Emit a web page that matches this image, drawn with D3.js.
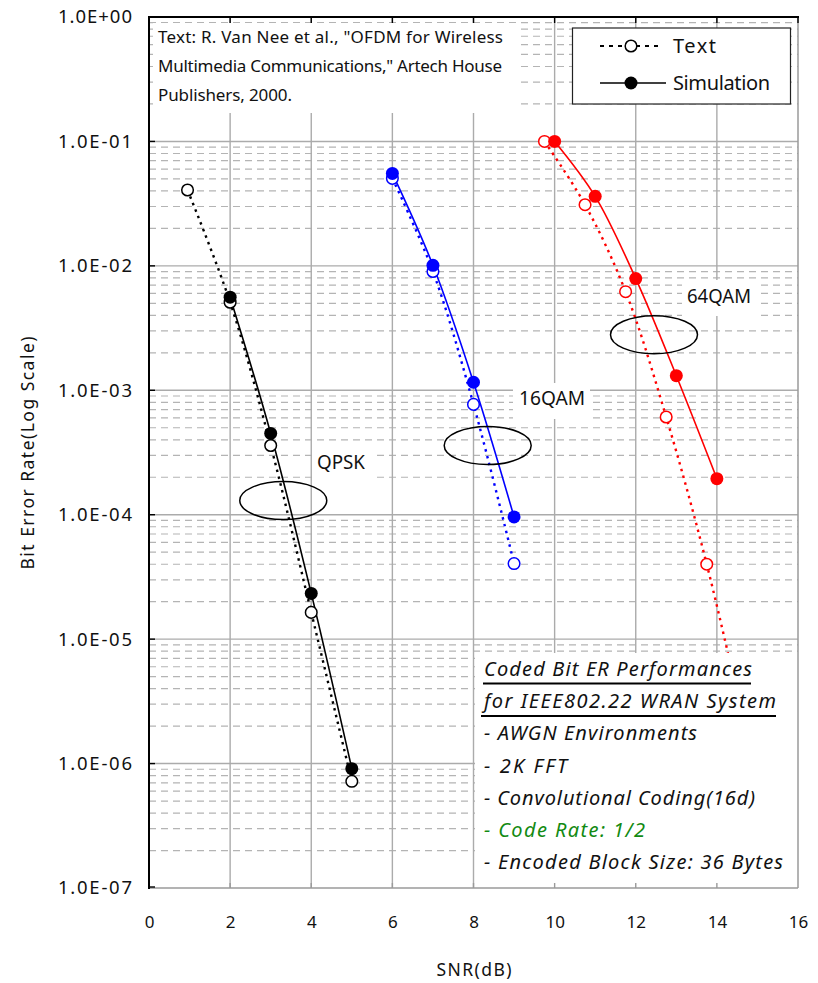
<!DOCTYPE html>
<html><head><meta charset="utf-8">
<script src="https://cdn.jsdelivr.net/npm/d3@7"></script>
<style>body{margin:0;background:#fff} svg{display:block}</style>
</head><body>
<svg id="c" width="818" height="983"></svg>
<script>
// ---------- data ----------
const qpskTextX   = [0.95, 2, 3, 4, 5];
const qpskTextBER = [0.0407, 5.1e-3, 3.6e-4, 1.64e-5, 7.2e-7];
const qpskSimX    = [2, 3, 4, 5];
const qpskSimBER  = [5.6e-3, 4.5e-4, 2.33e-5, 9.1e-7];

const qam16TextX   = [6, 7, 8, 9];
const qam16TextBER = [0.0505, 9.0e-3, 7.7e-4, 4.05e-5];
const qam16SimX    = [6, 7, 8, 9];
const qam16SimBER  = [0.0553, 0.0101, 1.16e-3, 9.6e-5];

const qam64TextX   = [9.75, 10.75, 11.75, 12.75, 13.75, 14.75];
const qam64TextBER = [0.100, 0.031, 6.2e-3, 6.1e-4, 4.0e-5, 1.6e-6];
const qam64SimX    = [10, 11, 12, 13, 14];
const qam64SimBER  = [0.100, 0.0362, 7.9e-3, 1.31e-3, 1.95e-4];

const xTickValues = [0, 2, 4, 6, 8, 10, 12, 14, 16];
const yTickValues = [1, 1e-1, 1e-2, 1e-3, 1e-4, 1e-5, 1e-6, 1e-7];
const yTickLabels = ["1.0E+00","1.0E-01","1.0E-02","1.0E-03","1.0E-04","1.0E-05","1.0E-06","1.0E-07"];

const groupNames  = ["QPSK", "16QAM", "64QAM"];
const groupCenterX   = [3.31, 8.35, 12.45];
const groupCenterBER = [1.30e-4, 3.6e-4, 2.8e-3];

const legendNames = ["Text", "Simulation"];
const refLines = ["Text: R. Van Nee et al., \"OFDM for Wireless",
                  "Multimedia Communications,\" Artech House",
                  "Publishers, 2000."];
const noteLines = ["Coded Bit ER Performances", "for IEEE802.22 WRAN System",
                   "- AWGN Environments", "- 2K FFT", "- Convolutional Coding(16d)",
                   "- Code Rate: 1/2", "- Encoded Block Size: 36 Bytes"];

// ---------- setup ----------
const svg = d3.select("#c");
const L = 149, R = 798, T = 17, B = 888;
const x = d3.scaleLinear().domain([0, 16]).range([L, R]);
const y = d3.scaleLog().domain([1e-7, 1]).range([B, T]);
const FONT = "'Noto Sans', 'DejaVu Sans', sans-serif";

svg.append("rect").attr("width", 818).attr("height", 983).attr("fill", "#fff");

// minor grid
const minor = [];
for (let e = -7; e < 0; e++) for (let k = 2; k <= 9; k++) minor.push(k * Math.pow(10, e));
svg.append("g").selectAll("line").data(minor).join("line")
  .attr("x1", L).attr("x2", R).attr("y1", d => y(d)).attr("y2", d => y(d))
  .attr("stroke", "#b4b4b4").attr("stroke-width", 1.2).attr("stroke-dasharray", "7,5");
// major grid
svg.append("g").selectAll("line").data(yTickValues.slice(1, -1)).join("line")
  .attr("x1", L).attr("x2", R).attr("y1", d => y(d)).attr("y2", d => y(d))
  .attr("stroke", "#ababab").attr("stroke-width", 1.4);
svg.append("g").selectAll("line").data(xTickValues.slice(1, -1)).join("line")
  .attr("y1", T).attr("y2", B).attr("x1", d => x(d)).attr("x2", d => x(d))
  .attr("stroke", "#ababab").attr("stroke-width", 1.4);

// ---------- series ----------
const line = d3.line().x(d => x(d[0])).y(d => y(d[1])).curve(d3.curveCatmullRom.alpha(0.5));
const series = [
  {xs: qpskTextX, ys: qpskTextBER, c: "#000", sim: false},
  {xs: qam16TextX, ys: qam16TextBER, c: "#0000ff", sim: false},
  {xs: qam64TextX, ys: qam64TextBER, c: "#ff0000", sim: false},
  {xs: qpskSimX, ys: qpskSimBER, c: "#000", sim: true},
  {xs: qam16SimX, ys: qam16SimBER, c: "#0000ff", sim: true},
  {xs: qam64SimX, ys: qam64SimBER, c: "#ff0000", sim: true}
];
series.forEach(s => {
  const pts = s.xs.map((v, i) => [v, s.ys[i]]);
  svg.append("path").attr("d", line(pts)).attr("fill", "none")
    .attr("stroke", s.c).attr("stroke-width", s.sim ? 1.6 : 2.4)
    .attr("stroke-dasharray", s.sim ? null : "2.5,4.5");
});
series.forEach(s => {
  const pts = s.xs.map((v, i) => [v, s.ys[i]]);
  svg.append("g").selectAll("circle").data(pts).join("circle")
    .attr("cx", d => x(d[0])).attr("cy", d => y(d[1]))
    .attr("r", s.sim ? 6.5 : 5.8)
    .attr("fill", s.sim ? s.c : "#fff")
    .attr("stroke", s.c).attr("stroke-width", s.sim ? 0 : 1.5);
});

// ---------- boxes ----------
svg.append("rect").attr("x", 153).attr("y", 23).attr("width", 366).attr("height", 90).attr("fill", "#fff");
svg.append("rect").attr("x", 475).attr("y", 653).attr("width", R - 475).attr("height", B - 653).attr("fill", "#fff");
const labelBoxes = [[312, 445, 60, 36], [513, 383, 77, 36], [682, 280, 76, 36]];
labelBoxes.forEach(b => svg.append("rect").attr("x", b[0]).attr("y", b[1]).attr("width", b[2]).attr("height", b[3]).attr("fill", "#fff"));
svg.append("rect").attr("x", 572.5).attr("y", 28).attr("width", 218).attr("height", 76)
  .attr("fill", "#fff").attr("stroke", "#222").attr("stroke-width", 1.2);

// ---------- frame & ticks ----------
svg.append("line").attr("x1", R).attr("x2", R).attr("y1", T).attr("y2", B).attr("stroke", "#9a9a9a").attr("stroke-width", 1.5);
svg.append("line").attr("x1", L).attr("x2", R).attr("y1", B).attr("y2", B).attr("stroke", "#9a9a9a").attr("stroke-width", 1.5);
svg.append("line").attr("x1", L).attr("x2", R + 1).attr("y1", T).attr("y2", T).attr("stroke", "#000").attr("stroke-width", 2);
svg.append("line").attr("x1", L).attr("x2", L).attr("y1", T - 1).attr("y2", B + 1).attr("stroke", "#000").attr("stroke-width", 2);
svg.append("g").selectAll("line").data(xTickValues.slice(1)).join("line")
  .attr("x1", d => x(d)).attr("x2", d => x(d)).attr("y1", T).attr("y2", T + 6).attr("stroke", "#000").attr("stroke-width", 1.4);
svg.append("g").selectAll("line").data(xTickValues.slice(1, -1)).join("line")
  .attr("x1", d => x(d)).attr("x2", d => x(d)).attr("y1", B).attr("y2", B - 5).attr("stroke", "#9a9a9a").attr("stroke-width", 1.4);
svg.append("g").selectAll("line").data(yTickValues.slice(0, -1)).join("line")
  .attr("x1", L).attr("x2", L + 6).attr("y1", d => y(d)).attr("y2", d => y(d)).attr("stroke", "#000").attr("stroke-width", 1.4);
svg.append("line").attr("x1", L).attr("x2", L + 6).attr("y1", B - 1).attr("y2", B - 1).attr("stroke", "#000").attr("stroke-width", 1.4);

// ---------- axes labels ----------
const xAxis = d3.axisBottom(x).tickValues(xTickValues).tickFormat(d3.format("d")).tickSize(0).tickPadding(28);
const gx = svg.append("g").attr("transform", `translate(0,${B})`).call(xAxis);
gx.select(".domain").remove();
gx.selectAll("text").attr("font-family", FONT).attr("font-size", 17).attr("fill", "#111");

const yAxis = d3.axisLeft(y).tickValues(yTickValues).tickFormat((d, i) => yTickLabels[i]).tickSize(0).tickPadding(17);
const gy = svg.append("g").attr("transform", `translate(${L},0)`).call(yAxis);
gy.select(".domain").remove();
gy.selectAll("text").attr("font-family", FONT).attr("font-size", 18.5).attr("fill", "#111")
  .attr("textLength", 74).attr("lengthAdjust", "spacing");

svg.append("text").attr("x", 474).attr("y", 976).attr("text-anchor", "middle")
  .attr("font-family", FONT).attr("font-size", 17.5).attr("fill", "#111")
  .attr("textLength", 75).attr("lengthAdjust", "spacing").text("SNR(dB)");
svg.append("text").attr("transform", "translate(34,453) rotate(-90)").attr("text-anchor", "middle")
  .attr("font-family", FONT).attr("font-size", 17.5).attr("fill", "#111")
  .attr("textLength", 233).attr("lengthAdjust", "spacing").text("Bit Error Rate(Log Scale)");

// ---------- ellipses & group labels ----------
groupNames.forEach((n, i) => {
  svg.append("ellipse").attr("cx", x(groupCenterX[i])).attr("cy", y(groupCenterBER[i]))
    .attr("rx", 43.5).attr("ry", 19).attr("fill", "none").attr("stroke", "#000").attr("stroke-width", 1.5);
});
const labelPos = [[317, 469, 48], [519, 405, 66], [687, 303, 64]];
groupNames.forEach((n, i) => {
  svg.append("text").attr("x", labelPos[i][0]).attr("y", labelPos[i][1])
    .attr("font-family", FONT).attr("font-size", 19).attr("fill", "#111")
    .attr("textLength", labelPos[i][2]).attr("lengthAdjust", "spacingAndGlyphs").text(n);
});

// ---------- reference text ----------
const refW = [345, 344, 134];
refLines.forEach((t, i) => {
  svg.append("text").attr("x", 158).attr("y", 43 + i * 29)
    .attr("font-family", FONT).attr("font-size", 17).attr("fill", "#111")
    .attr("textLength", refW[i]).attr("lengthAdjust", "spacing").text(t);
});

// ---------- legend ----------
const legY = [46, 83];
legendNames.forEach((n, i) => {
  svg.append("line").attr("x1", 600).attr("x2", i ? 666 : 662).attr("y1", legY[i]).attr("y2", legY[i])
    .attr("stroke", "#000").attr("stroke-width", i ? 1.6 : 2.2).attr("stroke-dasharray", i ? null : "4,5");
  svg.append("circle").attr("cx", 631).attr("cy", legY[i]).attr("r", i ? 6.5 : 5.8)
    .attr("fill", i ? "#000" : "#fff").attr("stroke", "#000").attr("stroke-width", i ? 0 : 1.5);
  svg.append("text").attr("x", 673).attr("y", legY[i] + 7).attr("font-family", FONT).attr("font-size", 20)
    .attr("fill", "#111").attr("textLength", i ? 97 : 43).attr("lengthAdjust", "spacing").text(n);
});

// ---------- note box ----------
const noteW = [268, 292, 213, 83, 271, 161, 299];
noteLines.forEach((t, i) => {
  svg.append("text").attr("x", 484).attr("y", 676 + i * 32.2)
    .attr("font-family", FONT).attr("font-size", 20).attr("font-style", "italic")
    .attr("fill", i === 5 ? "#128a12" : "#111")
    .attr("textLength", noteW[i]).attr("lengthAdjust", "spacing").text(t);
});
svg.append("line").attr("x1", 483).attr("x2", 751).attr("y1", 683.5).attr("y2", 683.5).attr("stroke", "#000").attr("stroke-width", 2.2);
svg.append("line").attr("x1", 481).attr("x2", 776).attr("y1", 716).attr("y2", 716).attr("stroke", "#000").attr("stroke-width", 2.2);
</script>
</body></html>
